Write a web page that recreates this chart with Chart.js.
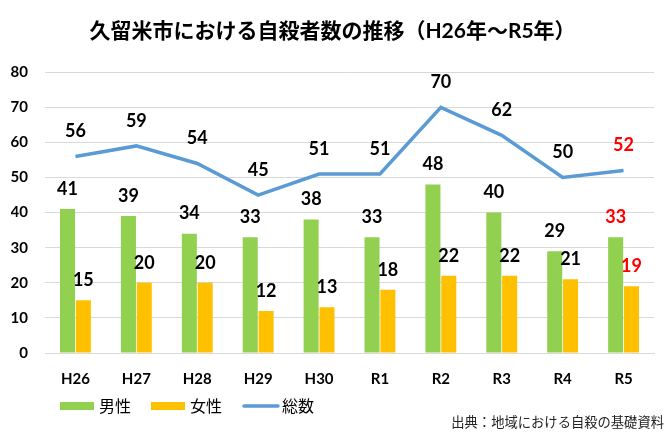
<!DOCTYPE html>
<html lang="ja">
<head>
    <meta charset="UTF-8">
    <title>久留米市における自殺者数の推移</title>
    <script src="https://cdn.jsdelivr.net/npm/chart.js"></script>
    <style>
        html, body { margin: 0; padding: 0; background: #fff; }
        #wrap { width: 669px; height: 432px; }
    </style>
</head>
<body>
    <div id="wrap"><canvas id="myChart"></canvas></div>
    <script>
        const years = ['H26', 'H27', 'H28', 'H29', 'H30', 'R1', 'R2', 'R3', 'R4', 'R5'];
        const male = [41, 39, 34, 33, 38, 33, 48, 40, 29, 33];
        const female = [15, 20, 20, 12, 13, 18, 22, 22, 21, 19];
        const total = [56, 59, 54, 45, 51, 51, 70, 62, 50, 52];
        const yTicks = [0, 10, 20, 30, 40, 50, 60, 70, 80];

        const FONT = "Lato, 'Noto Sans CJK JP', sans-serif";
        const JP = "'Noto Sans CJK JP', sans-serif";
        const GREEN = '#92d050';
        const YELLOW = '#ffc000';
        const BLUE = '#5b9bd5';

        // value labels + custom legend + source note
        const labelPlugin = {
            id: 'labels',
            afterDatasetsDraw(chart) {
                const ctx = chart.ctx;
                ctx.save();
                ctx.font = 'bold 18px ' + FONT;
                ctx.textAlign = 'center';
                ctx.textBaseline = 'middle';
                chart.data.datasets.forEach((ds, di) => {
                    const meta = chart.getDatasetMeta(di);
                    const last = ds.data.length - 1;
                    meta.data.forEach((el, i) => {
                        ctx.fillStyle = i === last ? '#ff0000' : '#000';
                        const off = ds.type === 'line' ? 25 : 20;
                        ctx.fillText(ds.data[i], el.x, el.y - off);
                    });
                });
                ctx.restore();
            },
            afterDraw(chart) {
                const ctx = chart.ctx;
                ctx.save();
                ctx.textBaseline = 'middle';
                ctx.textAlign = 'left';
                ctx.font = '16px ' + JP;
                let x = 60;
                const y = 406;
                chart.data.datasets.forEach(ds => {
                    if (ds.type === 'line') {
                        ctx.strokeStyle = ds.borderColor;
                        ctx.lineWidth = 3.5;
                        ctx.lineCap = 'round';
                        ctx.beginPath();
                        ctx.moveTo(x + 2, y);
                        ctx.lineTo(x + 36, y);
                        ctx.stroke();
                        x += 40;
                    } else {
                        ctx.fillStyle = ds.backgroundColor;
                        ctx.fillRect(x, y - 4, 34, 8);
                        x += 39;
                    }
                    ctx.fillStyle = '#000';
                    ctx.fillText(ds.label, x, y);
                    x += ctx.measureText(ds.label).width + 20;
                });
                ctx.font = '13.3px ' + JP;
                ctx.fillStyle = '#222';
                ctx.textAlign = 'right';
                ctx.fillText('出典：地域における自殺の基礎資料', 664, 422);
                ctx.restore();
            }
        };

        const config = {
            data: {
                labels: years,
                datasets: [
                    {
                        type: 'bar',
                        label: '男性',
                        data: male,
                        backgroundColor: GREEN,
                        categoryPercentage: 0.52,
                        barPercentage: 0.95,
                        order: 2
                    },
                    {
                        type: 'bar',
                        label: '女性',
                        data: female,
                        backgroundColor: YELLOW,
                        categoryPercentage: 0.52,
                        barPercentage: 0.95,
                        order: 2
                    },
                    {
                        type: 'line',
                        label: '総数',
                        data: total,
                        borderColor: BLUE,
                        backgroundColor: BLUE,
                        borderWidth: 3.5,
                        pointRadius: 0,
                        tension: 0,
                        order: 1
                    }
                ]
            },
            options: {
                responsive: true,
                maintainAspectRatio: false,
                animation: false,
                layout: {
                    padding: { left: 11, right: 15, top: 0, bottom: 27 }
                },
                plugins: {
                    title: {
                        display: true,
                        text: '久留米市における自殺者数の推移（H26年～R5年）',
                        color: '#000',
                        font: { family: FONT, size: 21, weight: 'bold' },
                        padding: { top: 19, bottom: 28 }
                    },
                    legend: { display: false },
                    tooltip: { enabled: false }
                },
                scales: {
                    x: {
                        grid: { display: false, drawTicks: false },
                        border: { color: '#d9d9d9' },
                        ticks: {
                            color: '#000',
                            padding: 17,
                            font: { family: FONT, size: 15, weight: 'bold' }
                        }
                    },
                    y: {
                        min: yTicks[0],
                        max: yTicks[yTicks.length - 1],
                        afterBuildTicks: axis => {
                            axis.ticks = yTicks.map(v => ({ value: v }));
                        },
                        afterFit: axis => {
                            axis.width = 34;
                        },
                        grid: { color: '#d9d9d9', drawTicks: false },
                        border: { display: false },
                        ticks: {
                            color: '#000',
                            padding: 17,
                            font: { family: FONT, size: 15, weight: 'bold' }
                        }
                    }
                }
            },
            plugins: [labelPlugin]
        };

        new Chart(document.getElementById('myChart'), config);
    </script>
</body>
</html>
